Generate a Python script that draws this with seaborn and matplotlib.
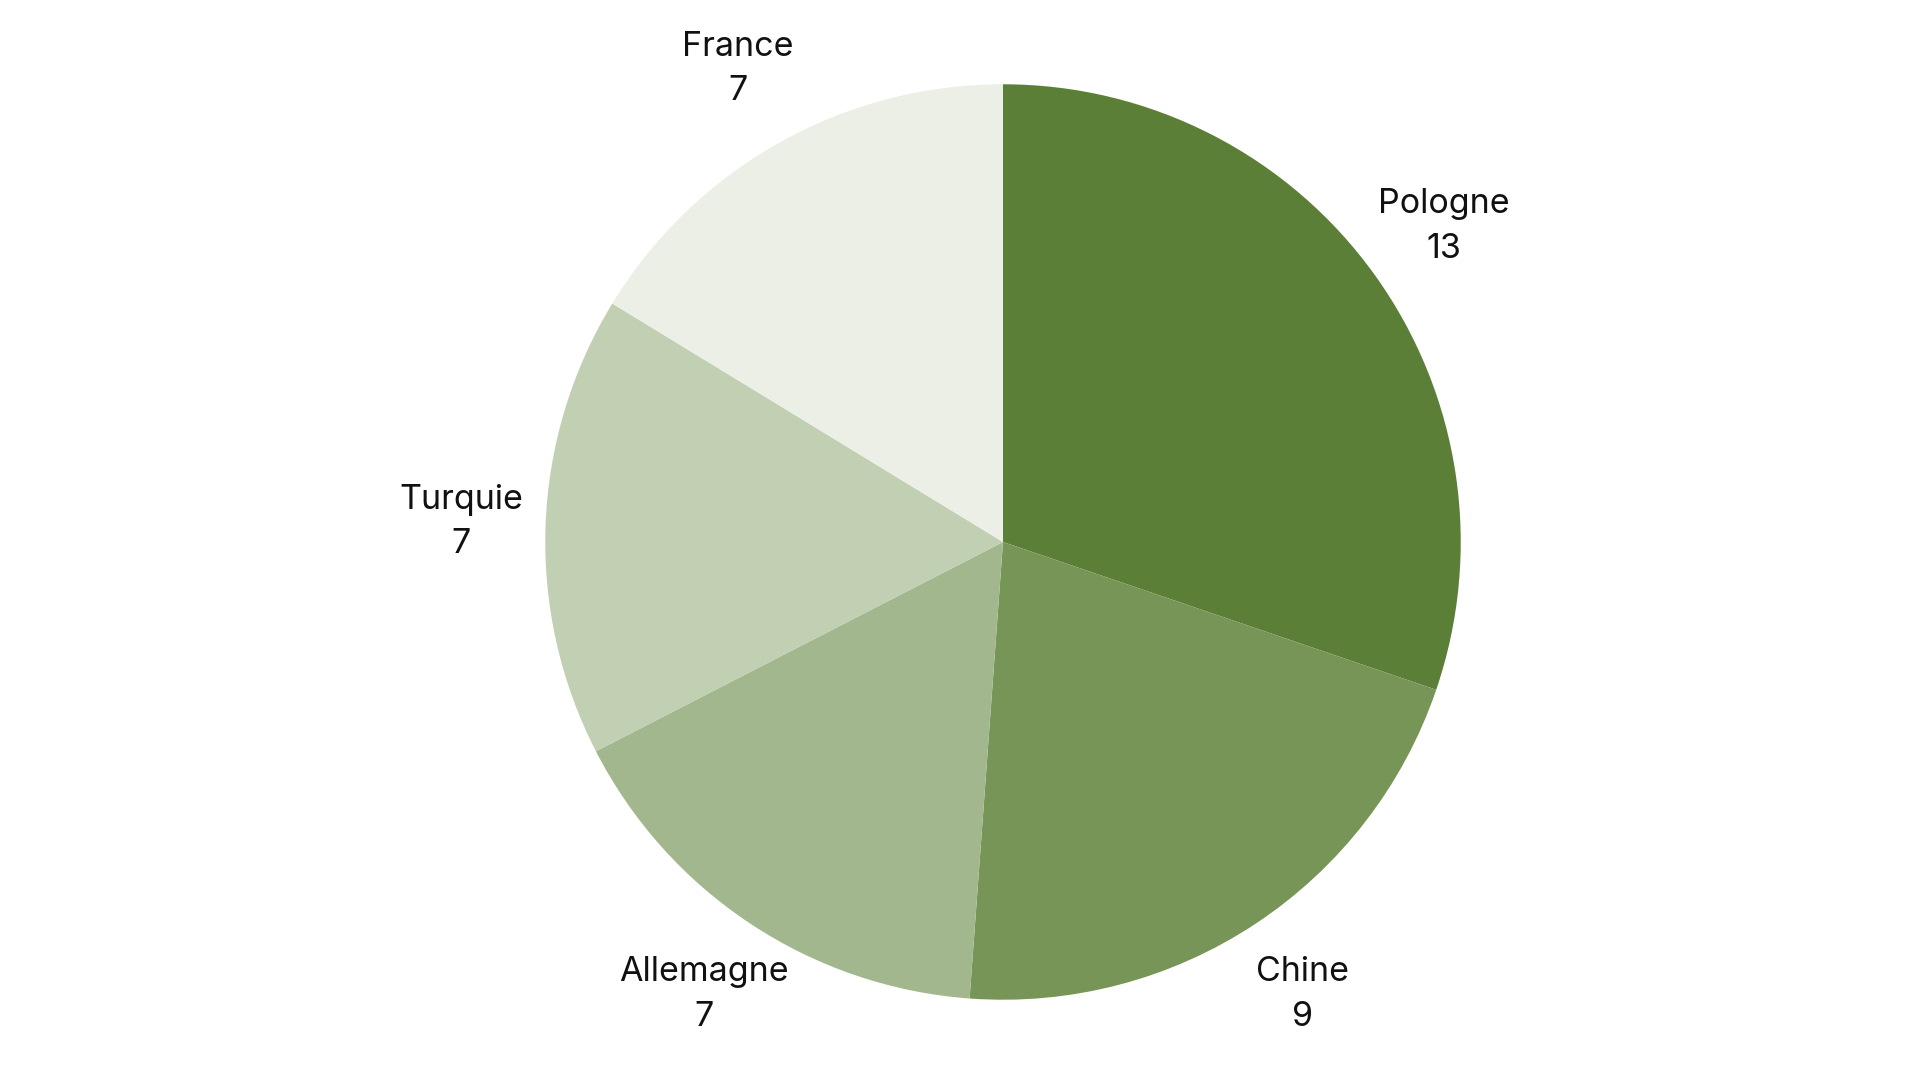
import matplotlib
matplotlib.use("Agg")
import matplotlib.pyplot as plt
import seaborn as sns

# data (clockwise from the top)
countries = ["Pologne", "Chine", "Allemagne", "Turquie", "France"]
values = [13, 9, 7, 7, 7]
colors = ["#5c7f38", "#779557", "#a2b78d", "#c1cfb2", "#ebefe6"]

sns.set_theme(style="white")
plt.rcParams['font.family'] = ['Inter', 'DejaVu Sans']

fig = plt.figure(figsize=(19.2, 10.8), dpi=100)
# axes placed so the pie sits where it does in the reference
ax = fig.add_axes([0.2828, 0.0722, 0.4792, 0.8519])

labels = [f"{c}\n{v}" for c, v in zip(countries, values)]
wedges, texts = ax.pie(values, labels=labels, colors=colors, startangle=90,
                       counterclock=False, labeldistance=1.185, radius=0.995,
                       wedgeprops=dict(linewidth=0),
                       textprops=dict(fontsize=24.5, color="#111111"))
for t in texts:
    t.set_horizontalalignment("center")
    t.set_verticalalignment("center")
    t.set_multialignment("center")
    t.set_linespacing(1.5)

ax.set_xlim(-1, 1)
ax.set_ylim(-1, 1)
ax.set_aspect("equal")
ax.axis("off")

fig.savefig("out.png", dpi=100, facecolor="white")
